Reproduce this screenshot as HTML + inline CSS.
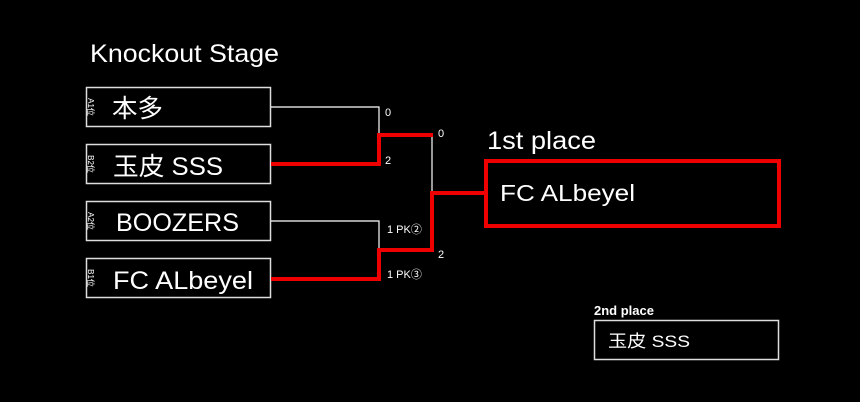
<!DOCTYPE html>
<html><head><meta charset="utf-8"><style>
html,body{margin:0;padding:0;background:#000;}
svg{display:block}
text{font-family:"Liberation Sans","Noto Sans CJK JP",sans-serif;fill:#fff}
</style></head><body>
<svg width="860" height="402" viewBox="0 0 860 402" xmlns="http://www.w3.org/2000/svg">
<rect width="860" height="402" fill="#000"/>
<text x="90" y="62" font-size="25" textLength="189" lengthAdjust="spacingAndGlyphs">Knockout Stage</text>
<g fill="none" stroke="#ddd" stroke-width="1.5">
<rect x="86.5" y="87.5" width="184" height="39"/>
<rect x="86.5" y="144.5" width="184" height="39"/>
<rect x="86.5" y="201.5" width="184" height="39"/>
<rect x="86.5" y="258.5" width="184" height="39"/>
<rect x="594.5" y="320.5" width="184" height="39"/>
</g>
<g font-size="8">
<text transform="translate(91,107) rotate(90)" text-anchor="middle" dy="3">A1位</text>
<text transform="translate(91,164) rotate(90)" text-anchor="middle" dy="3">B2位</text>
<text transform="translate(91,221) rotate(90)" text-anchor="middle" dy="3">A2位</text>
<text transform="translate(91,278) rotate(90)" text-anchor="middle" dy="3">B1位</text>
</g>
<g font-size="25">
<text x="112" y="117" textLength="51" lengthAdjust="spacingAndGlyphs">本多</text>
<text x="113" y="175" textLength="110" lengthAdjust="spacingAndGlyphs">玉皮 SSS</text>
<text x="116" y="231" textLength="123" lengthAdjust="spacingAndGlyphs">BOOZERS</text>
<text x="113" y="289" textLength="140" lengthAdjust="spacingAndGlyphs">FC ALbeyel</text>
</g>
<g fill="none" stroke="#fff" stroke-width="1.2">
<polyline points="271,107 379,107 379,134"/>
<polyline points="271,221 379,221 379,250"/>
<polyline points="432,135 432,193"/>
</g>
<g fill="none" stroke="#e00" stroke-width="4">
<polyline points="271,164 379,164 379,135 433,135"/>
<polyline points="271,279 379,279 379,250 432,250 432,193 485,193"/>
<rect x="486" y="161" width="293" height="65"/>
</g>
<g font-size="11">
<text x="385" y="116">0</text>
<text x="385" y="164">2</text>
<text x="438" y="137">0</text>
<text x="438" y="258">2</text>
<text x="387" y="233">1 PK②</text>
<text x="387" y="278">1 PK③</text>
</g>
<text x="487" y="149" font-size="25" textLength="109" lengthAdjust="spacingAndGlyphs">1st place</text>
<text x="500" y="201" font-size="23" textLength="135" lengthAdjust="spacingAndGlyphs">FC ALbeyel</text>
<text x="594" y="315" font-size="13" font-weight="bold">2nd place</text>
<text x="608" y="347" font-size="17" textLength="82" lengthAdjust="spacingAndGlyphs">玉皮 SSS</text>
</svg>
</body></html>
